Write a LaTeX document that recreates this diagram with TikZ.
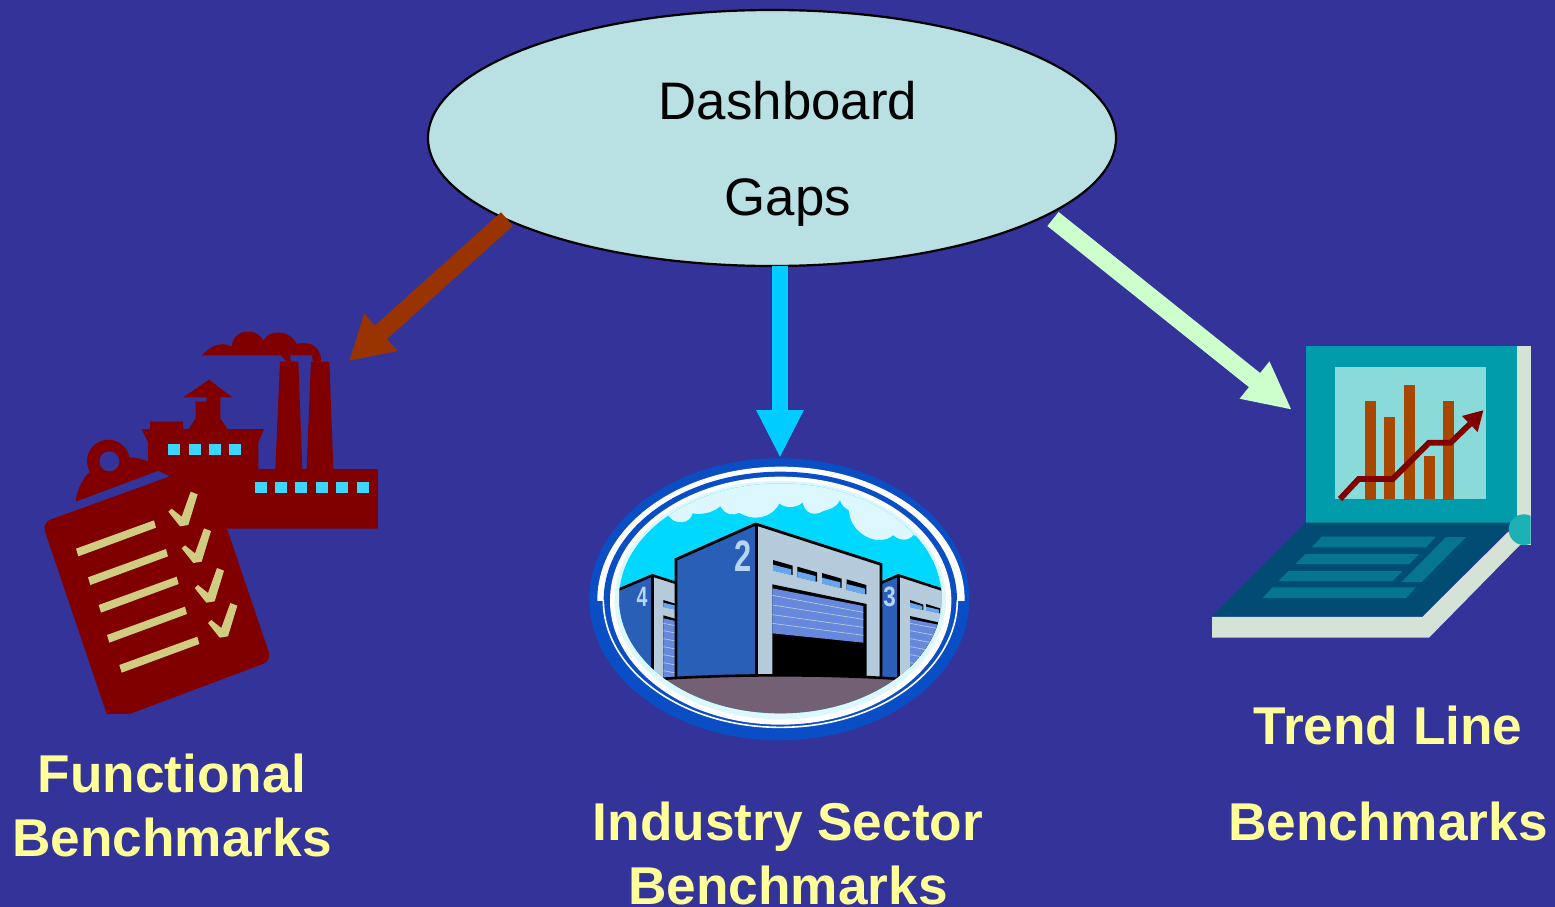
\documentclass[tikz,border=0pt]{standalone}
\usepackage{fontspec}
\setmainfont{Liberation Sans}
\usetikzlibrary{arrows.meta,shapes.geometric}
\definecolor{bgblue}{HTML}{333399}
\definecolor{bubble}{HTML}{B9E0E2}
\definecolor{labelyellow}{HTML}{FFFF99}
\definecolor{maroonfill}{HTML}{800000}
\definecolor{winblue}{HTML}{3CD6FF}
\definecolor{khaki}{HTML}{D0CC80}
\definecolor{brownarrow}{HTML}{993300}
\definecolor{cyanarrow}{HTML}{00CCFF}
\definecolor{mintarrow}{HTML}{CCFFCC}
\definecolor{ringblue}{HTML}{0A4EC6}
\definecolor{sky}{HTML}{00D8FF}
\definecolor{cloud}{HTML}{DDF7FF}
\definecolor{wallblue}{HTML}{2A5FB8}
\definecolor{wallgrey}{HTML}{B5CBDC}
\definecolor{doorblue}{HTML}{6688DD}
\definecolor{winlight}{HTML}{66A6EE}
\definecolor{ground}{HTML}{736075}
\definecolor{numlight}{HTML}{B8D4F4}
\definecolor{teal}{HTML}{009CAB}
\definecolor{screenlight}{HTML}{8ADADA}
\definecolor{barbrown}{HTML}{A84800}
\definecolor{casepale}{HTML}{D5E2D6}
\definecolor{deckblue}{HTML}{004C73}
\definecolor{keyteal}{HTML}{067590}
\definecolor{hinge}{HTML}{1AB0B4}
\tikzset{
  bench/.style={text=labelyellow,font=\bfseries\fontsize{53.2}{64}\selectfont,align=center,inner sep=0pt},
  bubbletext/.style={text=black,font=\fontsize{52.8}{96}\selectfont,align=center,inner sep=0pt},
  fatarrow/.style={line width=#1},
  zoomscope/.style={x=0.33333pt,y=-0.33333pt},
  wire/.style={black,line width=2.6pt,line join=miter},
  stripe/.style={draw=#1,line width=0.7pt}
}
\begin{document}
\begin{tikzpicture}[x=1pt,y=-1pt]
\useasboundingbox (0,0) rectangle (1555,907);
\fill[bgblue] (0,0) rectangle (1555,907);

% ---------- factory and clipboard ----------
\begin{scope}[shift={(30,320)},zoomscope]
\fill[maroonfill] (515,106) .. controls (535,85) and (570,60) .. (605,80)
  .. controls (610,25) and (680,20) .. (700,62)
  .. controls (720,25) and (780,30) .. (800,72)
  .. controls (850,60) and (875,90) .. (873,125) -- (850,125) -- (845,106)
  -- (780,106) -- (783,125) -- (770,125) -- (752,106) -- cycle;
\fill[maroonfill] (750,125) -- (805,125) -- (817,447) -- (736,447) -- cycle;
\fill[maroonfill] (843,125) -- (898,125) -- (910,447) -- (830,447) -- cycle;
\fill[maroonfill] (335,327) -- (360,327) -- (360,305) -- (459,305) -- (459,327) -- (476,327)
  -- (497,295) -- (497,245) -- (530,245) -- (530,232) -- (460,232) -- (537,179) -- (607,232)
  -- (571,232) -- (571,295) -- (592,327) -- (702,327) -- (685,367) -- (685,447) -- (1044,447)
  -- (1044,626) -- (590,626) -- (417,468) -- (385,452) -- (354,430) -- (354,367) -- cycle;
\foreach \wx in {414,477,537,597}
  \fill[winblue] (\wx,372) rectangle (\wx+36,405);
\foreach \wx in {675,735,795,858,918,981}
  \fill[winblue] (\wx,486) rectangle (\wx+36,519);
% clip of the board
\fill[maroonfill] (137,545) .. controls (140,510) and (160,472) .. (180,455)
  -- (297,412) .. controls (320,412) and (340,418) .. (354,425) -- (385,452) -- cycle;
\fill[maroonfill] (235,423) circle[x radius=64,y radius=64];
\fill[bgblue] (238,424) circle[x radius=30,y radius=30];
% board
\begin{scope}
\clip (0,0) rectangle (1100,1180);
\fill[maroonfill,rounded corners=9pt] (36,608) -- (525,431) -- (725,1022) -- (238,1205) -- cycle;
\end{scope}
\foreach \lx/\ly in {138/686,174/772,206/855,231/945,268/1035}
  \fill[khaki] (\lx,\ly) -- ++(234,-85) -- ++(6,22) -- ++(-233,86) -- cycle;
\foreach \cx/\cy in {0/0,40/110,79/229,119/334}
  \fill[khaki,shift={(\cx,\cy)}] (415,575) -- (425,566) -- (455,590) -- (482,515) -- (503,523)
    -- (475,615) -- (450,619) -- cycle;
\end{scope}

% ---------- warehouse ----------
\begin{scope}[shift={(580,450)},zoomscope]
\begin{scope}
\clip (0,0) rectangle (1168,900);
\fill[ringblue] (598,448) circle[x radius=570,y radius=423];
\end{scope}
\begin{scope}
\clip (0,0) rectangle (1200,450);
\fill[white] (603,450) circle[x radius=551,y radius=400];
\fill[ringblue] (601,450) circle[x radius=530,y radius=385];
\end{scope}
\begin{scope}
\clip (0,450) rectangle (1200,900);
\draw[white,line width=1.6pt] (601,450) circle[x radius=531,y radius=382];
\end{scope}
\fill[white] (602,452) circle[x radius=512,y radius=372];
\fill[cloud] (601,450) circle[x radius=497,y radius=358];
\begin{scope}
\clip (601,445) circle[x radius=484,y radius=345];
\fill[sky] (100,80) rectangle (1100,800);
\fill[cloud] (268,200) .. controls (285,225) and (330,222) .. (338,190)
  .. controls (365,195) and (400,188) .. (421,168)
  .. controls (435,195) and (460,198) .. (478,188)
  .. controls (520,215) and (575,205) .. (598,160)
  .. controls (615,175) and (650,175) .. (668,157)
  .. controls (675,190) and (700,200) .. (730,183)
  .. controls (750,178) and (772,170) .. (780,150)
  .. controls (785,170) and (800,175) .. (807,182)
  .. controls (810,250) and (895,295) .. (940,255)
  .. controls (955,272) and (985,275) .. (1000,255)
  -- (1150,300) -- (1100,30) -- (150,30) -- cycle;
% building 4
\fill[wallblue] (118,418) -- (217,376) -- (217,690) -- (118,690) -- cycle;
\fill[wallgrey] (217,376) -- (292,400) -- (292,690) -- (217,690) -- cycle;
\draw[wire] (118,418) -- (217,376) -- (292,400);
\draw[wire] (217,376) -- (217,690);
\fill[black] (250,450) -- (292,463) -- (292,480) -- (250,470) -- cycle;
\fill[winlight] (250,458) -- (292,468) -- (292,480) -- (250,472) -- cycle;
\fill[black] (250,496) -- (292,508) -- (292,690) -- (250,690) -- cycle;
\fill[doorblue] (250,505) -- (292,514) -- (292,690) -- (250,690) -- cycle;
\foreach \sy in {520,542,566,590,614,638,662}
  \draw[stripe=wallgrey] (250,\sy) -- (292,\sy+8);
% building 3
\fill[wallblue] (905,398) -- (955,376) -- (955,690) -- (905,690) -- cycle;
\fill[wallgrey] (955,376) -- (1090,420) -- (1090,690) -- (955,690) -- cycle;
\draw[wire] (905,398) -- (955,376) -- (1090,420);
\draw[wire] (955,376) -- (955,690);
\fill[black] (990,450) -- (1030,464) -- (1030,480) -- (990,470) -- cycle;
\fill[winlight] (990,458) -- (1027,468) -- (1027,480) -- (990,472) -- cycle;
\fill[black] (1038,462) -- (1080,475) -- (1080,490) -- (1038,480) -- cycle;
\fill[winlight] (1038,470) -- (1077,479) -- (1077,490) -- (1038,482) -- cycle;
\fill[black] (990,498) -- (1075,517) -- (1075,690) -- (990,690) -- cycle;
\fill[doorblue] (990,507) -- (1075,524) -- (1075,690) -- (990,690) -- cycle;
\foreach \sy in {520,542,566,590,614,638}
  \draw[stripe=wallgrey] (990,\sy) -- (1075,\sy+16);
% building 2
\fill[wallblue] (288,328) -- (527,222) -- (527,680) -- (288,690) -- cycle;
\fill[wallgrey] (527,222) -- (903,343) -- (903,690) -- (527,680) -- cycle;
\draw[black,line width=2.8pt,line join=miter] (288,690) -- (288,328) -- (527,222) -- (903,343) -- (903,690);
\draw[black,line width=2.8pt] (529,222) -- (529,680);
\fill[black] (577,403) -- (860,462) -- (860,690) -- (577,680) -- cycle;
\fill[doorblue] (577,415) -- (850,468) -- (850,578) -- (577,550) -- cycle;
\foreach \ya/\yb in {436/487,465/508,494/532,520/556}
  \draw[stripe=wallgrey] (577,\ya) -- (850,\yb);
\foreach \ax/\ay in {579/330,652/350,726/369,800/388}{
  \fill[black] (\ax,\ay) -- (\ax+59,\ay+17) -- (\ax+59,\ay+45) -- (\ax,\ay+31) -- cycle;
  \fill[winlight] (\ax,\ay+14) -- (\ax+55,\ay+28) -- (\ax+55,\ay+45) -- (\ax,\ay+32) -- cycle;
}
\node[text=numlight,font=\bfseries\fontsize{44}{44}\selectfont,xscale=0.7,inner sep=0] (numtwo) at (489,317) {2};
\node[text=numlight,font=\bfseries\fontsize{28}{28}\selectfont,xscale=0.7,inner sep=0] (numfour) at (186,441) {4};
\node[text=numlight,font=\bfseries\fontsize{28}{28}\selectfont,xscale=0.8,inner sep=0] (numthree) at (929,441) {3};
% ground
\fill[ground] (100,700) .. controls (350,668) and (850,668) .. (1100,700) -- (1100,800) -- (100,800) -- cycle;
\draw[black,line width=2.6pt] (100,700) .. controls (350,668) and (850,668) .. (1100,700);
\end{scope}
\end{scope}

% ---------- laptop ----------
\begin{scope}[shift={(1200,335)},zoomscope]
\fill[casepale] (951,33) rectangle (993,630);
\fill[teal] (318,33) rectangle (951,563);
\fill[screenlight] (405,96) rectangle (858,492);
\foreach \bx/\bt/\bb in {495/198/495,552/246/492,612/150/495,672/363/492,729/198/495}
  \fill[barbrown] (\bx,\bt) rectangle (\bx+33,\bb);
\draw[maroonfill,line width=5.8pt,line join=miter] (420,492) -- (476,432) -- (578,432) -- (687,323) -- (752,323) -- (815,262);
\fill[maroonfill] (786,243) -- (850,226) -- (833,291) -- cycle;
\fill[casepale] (36,845) -- (667,845) -- (925,590) -- (965,625) -- (687,908) -- (36,908) -- cycle;
\fill[deckblue] (318,563) -- (945,563) -- (667,845) -- (36,845) -- cycle;
\fill[keyteal] (365,605) -- (707,605) -- (678,637) -- (335,637) -- cycle;
\fill[keyteal] (316,657) -- (658,657) -- (628,687) -- (286,687) -- cycle;
\fill[keyteal] (266,708) -- (608,708) -- (578,738) -- (236,738) -- cycle;
\fill[keyteal] (218,757) -- (648,757) -- (618,789) -- (188,789) -- cycle;
\fill[keyteal] (738,606) -- (798,606) -- (665,741) -- (605,741) -- cycle;
\begin{scope}
\clip (900,500) rectangle (992,660);
\fill[hinge] (972,584) circle[x radius=46,y radius=46];
\end{scope}
\end{scope}

% ---------- bubble, arrows and labels ----------
\node[ellipse,draw=black,line width=2.2pt,fill=bubble,minimum width=688pt,minimum height=256pt,inner sep=0pt] (dash) at (772,138) {};
\node[bubbletext] (dashtext) at (788,154) {Dashboard\\Gaps};

\node[bench] (functional) at (172,805) {Functional\\Benchmarks};
\node[bench] (industry) at (788,853) {Industry Sector\\Benchmarks};
\node[bench,font=\bfseries\fontsize{53.2}{96}\selectfont] (trend) at (1388,773) {Trend Line\\Benchmarks};

\coordinate (brownstart) at (507,219);
\coordinate (browntip) at (349,361);
\coordinate (cyanstart) at (780,266);
\coordinate (cyantip) at (780,458);
\coordinate (mintstart) at (1053,219);
\coordinate (minttip) at (1292,410);
\draw[fatarrow=18pt,brownarrow,-{Triangle[length=43pt,width=47pt]}] (brownstart) -- (browntip);
\draw[fatarrow=16pt,cyanarrow,-{Triangle[length=48pt,width=44pt]}] (cyanstart) -- (cyantip);
\draw[fatarrow=18pt,mintarrow,-{Triangle[length=48pt,width=44pt]}] (mintstart) -- (minttip);
\end{tikzpicture}
\end{document}
